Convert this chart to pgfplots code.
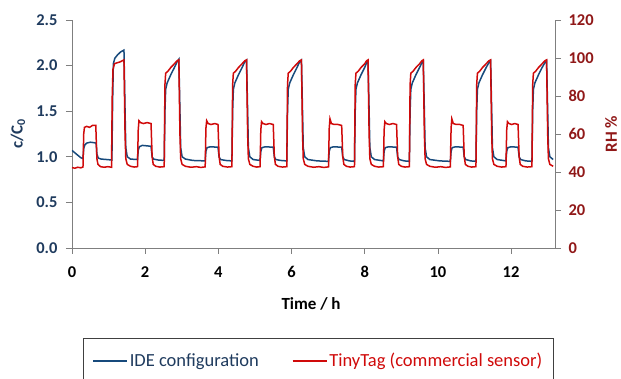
\documentclass[border=0pt]{standalone}
\usepackage{pgfplots}
\pgfplotsset{compat=1.18}
\usepackage{fontspec}
\setmainfont{Carlito}
\definecolor{ideblue}{HTML}{174A7C}
\definecolor{tagred}{HTML}{D00A0A}
\definecolor{navytxt}{HTML}{1F3B5E}
\definecolor{redtxt}{HTML}{901818}
\definecolor{axgray}{HTML}{7F7F7F}
\begin{document}
\begin{tikzpicture}
\path[use as bounding box] (-72pt,-131pt) rectangle (549pt,248pt);
\pgfplotsset{
  myaxis/.style={
    scale only axis, width=483pt, height=228pt,
    xmin=0, xmax=13.2,
    axis line style={axgray, line width=0.8pt},
    tick style={axgray, line width=0.8pt},
    tick align=outside,
    major tick length=6pt,
    /pgf/number format/assume math mode=true,
    ticklabel style={font=\fontsize{16.5}{19}\selectfont\bfseries},
  }
}
\begin{axis}[myaxis,
  axis x line*=bottom, axis y line*=left,
  ymin=0, ymax=2.5, ytick={0,0.5,1,1.5,2,2.5},
  xtick={0,2,4,6,8,10,12},
  yticklabel style={text=navytxt, xshift=-5pt, /pgf/number format/fixed, /pgf/number format/fixed zerofill, /pgf/number format/precision=1},
  xticklabel style={text=black, yshift=-9pt},
  xlabel={Time / h},
  xlabel style={font=\fontsize{17}{20}\selectfont\bfseries, at={(axis description cs:0.495,-0.2456)}, anchor=center},
  ylabel={c/C\textsubscript{0}},
  ylabel style={font=\fontsize{17}{20}\selectfont\bfseries, text=navytxt, at={(axis description cs:-0.112,0.5)}, anchor=center},
]
\addplot[ideblue, line width=1.5pt] coordinates {
(0.00,1.07)(0.06,1.05)(0.12,1.03)(0.18,1.01)(0.24,0.99)(0.30,0.98)
(0.32,1.09)(0.35,1.13)(0.40,1.15)(0.50,1.16)(0.60,1.155)(0.66,1.15)
(0.68,1.03)(0.72,0.985)(0.80,0.975)(0.95,0.97)(1.09,0.965)
(1.11,1.6)(1.13,2.02)(1.17,2.08)(1.25,2.12)(1.33,2.15)(1.42,2.17)
(1.45,1.5)(1.47,1.1)(1.51,1.0)(1.60,0.975)(1.79,0.97)
(1.81,1.07)(1.84,1.11)(1.92,1.125)(2.05,1.12)(2.16,1.115)
(2.19,1.0)(2.23,0.975)(2.35,0.965)(2.52,0.96)
(2.54,1.5)(2.56,1.74)(2.60,1.81)(2.70,1.9)(2.80,1.98)(2.87,2.04)(2.92,2.07)
(2.95,1.5)(2.97,1.1)(3.01,1.0)(3.10,0.975)(3.30,0.96)(3.64,0.955)
(3.66,1.06)(3.69,1.10)(3.78,1.11)(3.99,1.105)
(4.02,1.0)(4.06,0.97)(4.20,0.96)(4.37,0.955)
(4.39,1.5)(4.41,1.74)(4.45,1.81)(4.55,1.9)(4.65,1.98)(4.72,2.04)(4.77,2.06)
(4.80,1.5)(4.82,1.1)(4.86,1.0)(4.95,0.97)(5.14,0.96)
(5.16,1.06)(5.19,1.10)(5.28,1.11)(5.50,1.105)
(5.53,1.0)(5.57,0.97)(5.70,0.96)(5.87,0.955)
(5.89,1.5)(5.91,1.74)(5.95,1.81)(6.05,1.9)(6.15,1.98)(6.22,2.04)(6.27,2.06)
(6.30,1.5)(6.32,1.1)(6.36,1.0)(6.45,0.97)(6.70,0.955)(7.01,0.95)
(7.03,1.06)(7.06,1.10)(7.15,1.11)(7.37,1.105)
(7.40,1.0)(7.44,0.97)(7.58,0.955)(7.72,0.95)
(7.74,1.5)(7.76,1.74)(7.80,1.81)(7.90,1.9)(8.00,1.98)(8.05,2.03)(8.09,2.05)
(8.12,1.5)(8.14,1.1)(8.18,1.0)(8.27,0.97)(8.51,0.955)
(8.53,1.06)(8.56,1.10)(8.65,1.11)(8.87,1.105)
(8.90,1.0)(8.94,0.97)(9.08,0.955)(9.22,0.95)
(9.24,1.5)(9.26,1.74)(9.30,1.81)(9.40,1.9)(9.50,1.98)(9.56,2.03)(9.60,2.05)
(9.63,1.5)(9.65,1.1)(9.69,1.0)(9.78,0.97)(10.05,0.955)(10.34,0.95)
(10.36,1.06)(10.39,1.10)(10.48,1.11)(10.69,1.105)
(10.72,1.0)(10.76,0.97)(10.90,0.955)(11.04,0.95)
(11.06,1.5)(11.08,1.74)(11.12,1.81)(11.22,1.9)(11.32,1.98)(11.39,2.03)(11.44,2.05)
(11.47,1.5)(11.49,1.1)(11.53,1.0)(11.62,0.97)(11.86,0.955)
(11.88,1.06)(11.91,1.10)(12.00,1.11)(12.19,1.105)
(12.22,1.0)(12.26,0.97)(12.40,0.955)(12.57,0.95)
(12.59,1.5)(12.61,1.74)(12.65,1.81)(12.75,1.9)(12.85,1.98)(12.92,2.03)(12.97,2.05)
(13.00,1.5)(13.02,1.1)(13.06,1.0)(13.15,0.97)
};
\end{axis}
\begin{axis}[myaxis,
  axis x line=none, axis y line*=right,
  ymin=0, ymax=120, ytick={0,20,40,60,80,100,120},
  yticklabel style={text=redtxt, xshift=4pt},
  ylabel={RH \%},
  ylabel style={font=\fontsize{17}{20}\selectfont\bfseries, text=redtxt, at={(axis description cs:1.116,0.5)}, anchor=center},
  legend columns=2,
  legend cell align=left,
  legend style={at={(axis description cs:0.0228,-0.395)}, anchor=north west,
    draw=black!75, line width=0.6pt, font=\fontsize{18.5}{22}\selectfont,
    inner xsep=9pt, inner ysep=13pt,
    /tikz/every even column/.append style={column sep=31pt}},
  legend image code/.code={\draw[#1, line width=1.5pt] (0pt,0pt) -- (34pt,0pt);},
]
\addlegendimage{ideblue}
\addlegendentry{\textcolor{navytxt}{IDE configuration}}
\addplot[tagred, line width=1.5pt] coordinates {
(0.00,42.3)(0.08,42.0)(0.16,42.5)(0.24,42.2)(0.30,42.6)
(0.32,60)(0.34,63.5)(0.40,64)(0.48,63.5)(0.56,64.5)(0.65,64.5)
(0.68,47)(0.71,44)(0.78,42.8)(0.88,42.5)(0.98,42.8)(1.08,42.5)
(1.10,80)(1.12,94)(1.16,97)(1.24,97.5)(1.32,98)(1.42,99)
(1.45,60)(1.47,47)(1.51,44)(1.60,43)(1.70,42.6)(1.79,42.8)
(1.81,62)(1.83,67)(1.87,66)(1.95,65.5)(2.05,66)(2.16,65.5)
(2.19,48)(2.22,44)(2.29,43)(2.40,42.6)(2.52,42.8)
(2.54,86)(2.56,92)(2.62,93)(2.70,95)(2.80,97)(2.87,98.5)(2.92,99)
(2.95,60)(2.97,47)(3.01,44)(3.10,43)(3.25,42.5)(3.40,42.8)(3.52,42.4)(3.64,42.7)
(3.66,63)(3.68,67)(3.72,65.5)(3.80,65)(3.90,65.5)(3.99,65)
(4.02,48)(4.05,44)(4.12,43)(4.25,42.6)(4.37,42.8)
(4.39,86)(4.41,92)(4.47,93)(4.55,95)(4.65,97)(4.72,98.5)(4.77,99)
(4.80,60)(4.82,47)(4.86,44)(4.95,43)(5.05,42.6)(5.14,42.8)
(5.16,62)(5.18,66.5)(5.22,65.5)(5.30,65)(5.40,65.5)(5.50,65)
(5.53,48)(5.56,44)(5.63,43)(5.75,42.6)(5.87,42.8)
(5.89,86)(5.91,92)(5.97,93)(6.05,95)(6.15,97)(6.22,98.5)(6.27,99)
(6.30,60)(6.32,47)(6.36,44)(6.45,43)(6.60,42.5)(6.75,42.8)(6.88,42.4)(7.01,42.7)
(7.03,63)(7.05,68)(7.09,65.5)(7.17,65)(7.27,65)(7.37,64.5)
(7.40,48)(7.43,44)(7.50,43)(7.60,42.6)(7.72,42.8)
(7.74,86)(7.76,92)(7.82,93)(7.90,95)(8.00,97)(8.05,98.5)(8.09,99)
(8.12,60)(8.14,47)(8.18,44)(8.27,43)(8.38,42.6)(8.51,42.8)
(8.53,62)(8.55,66.5)(8.59,65.5)(8.67,65)(8.77,65.5)(8.87,65)
(8.90,48)(8.93,44)(9.00,43)(9.10,42.6)(9.22,42.8)
(9.24,86)(9.26,92)(9.32,93)(9.40,95)(9.50,97)(9.56,98.5)(9.60,99)
(9.63,60)(9.65,47)(9.69,44)(9.78,43)(9.93,42.5)(10.08,42.8)(10.21,42.4)(10.34,42.7)
(10.36,63)(10.38,68)(10.42,65.5)(10.50,65)(10.60,65)(10.69,64.5)
(10.72,48)(10.75,44)(10.82,43)(10.92,42.6)(11.04,42.8)
(11.06,86)(11.08,92)(11.14,93)(11.22,95)(11.32,97)(11.39,98.5)(11.44,99)
(11.47,60)(11.49,47)(11.53,44)(11.62,43)(11.74,42.6)(11.86,42.8)
(11.88,62)(11.90,66.5)(11.94,65.5)(12.02,65)(12.10,65.5)(12.19,65)
(12.22,48)(12.25,44)(12.32,43)(12.44,42.6)(12.57,42.8)
(12.59,86)(12.61,92)(12.67,93)(12.75,95)(12.85,97)(12.92,98.5)(12.97,99)
(13.00,60)(13.02,47)(13.06,44)(13.15,43)
};
\addlegendentry{\textcolor{tagred}{TinyTag (commercial sensor)}}
\end{axis}
\end{tikzpicture}
\end{document}
